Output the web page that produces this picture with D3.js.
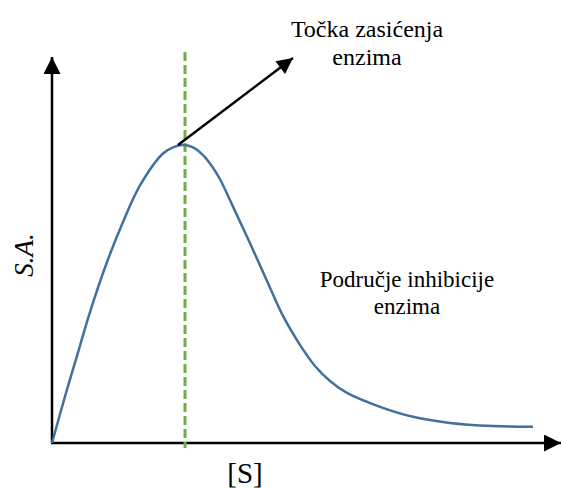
<!DOCTYPE html>
<html>
<head>
<meta charset="utf-8">
<script src="https://cdn.jsdelivr.net/npm/d3@7"></script>
<style>
  body { margin: 0; background: #fff; }
</style>
</head>
<body>
<div id="vis"></div>
<script>
// substrate concentration [S] vs specific activity (S.A.)
var sVals  = [0, 0.28, 0.54, 0.76, 1.10, 1.42, 1.76, 2.22, 2.42, 2.62, 2.82, 3.02, 3.20, 3.36, 3.62, 3.96, 4.30, 4.62, 4.96, 5.26, 5.56, 5.90, 6.56, 7.22, 7.96, 8.82, 9.62];
var saVals = [0, 1.30, 2.44, 3.40, 4.70, 5.74, 6.69, 7.52, 7.68, 7.74, 7.68, 7.48, 7.19, 6.85, 6.14, 5.19, 4.21, 3.30, 2.55, 2.00, 1.61, 1.30, 0.94, 0.68, 0.52, 0.44, 0.42];
var saturationS = 2.66;
var arrowStart = [2.52, 7.74];
var arrowEnd = [4.82, 10.0];
var labelTop = ["Točka zasićenja", "enzima"];
var labelInhib = ["Područje inhibicije", "enzima"];

var serif = "Liberation Serif, DejaVu Serif, serif";

var svg = d3.select('#vis').append('svg')
    .attr('width', 561)
    .attr('height', 488);

var x = d3.scaleLinear().domain([0, 10]).range([52, 552]);
var y = d3.scaleLinear().domain([0, 10]).range([443, 58]);

var defs = svg.append('defs');
defs.append('marker')
    .attr('id', 'axArrow')
    .attr('viewBox', '0 0 10 10')
    .attr('refX', 10).attr('refY', 5)
    .attr('markerUnits', 'userSpaceOnUse')
    .attr('markerWidth', 17).attr('markerHeight', 17)
    .attr('orient', 'auto')
  .append('path')
    .attr('d', 'M0,0 L10,5 L0,10 Z')
    .attr('fill', '#000');
defs.append('marker')
    .attr('id', 'ptArrow')
    .attr('viewBox', '0 0 10 10')
    .attr('refX', 10).attr('refY', 5)
    .attr('markerUnits', 'userSpaceOnUse')
    .attr('markerWidth', 18).attr('markerHeight', 16)
    .attr('orient', 'auto')
  .append('path')
    .attr('d', 'M0,0 L10,5 L0,10 Z')
    .attr('fill', '#000');

// axes
svg.append('line')
    .attr('x1', x(0)).attr('y1', y(0))
    .attr('x2', x(0)).attr('y2', 57)
    .attr('stroke', '#000').attr('stroke-width', 2.5)
    .attr('marker-end', 'url(#axArrow)');
svg.append('line')
    .attr('x1', x(0) - 1).attr('y1', y(0))
    .attr('x2', 561).attr('y2', y(0))
    .attr('stroke', '#000').attr('stroke-width', 2.5)
    .attr('marker-end', 'url(#axArrow)');

// saturation line
svg.append('line')
    .attr('x1', x(saturationS)).attr('y1', 52)
    .attr('x2', x(saturationS)).attr('y2', 448)
    .attr('stroke', '#70ad47').attr('stroke-width', 3)
    .attr('stroke-dasharray', '9,4');

// curve
var pts = d3.zip(sVals, saVals);
svg.append('path')
    .datum(pts)
    .attr('fill', 'none')
    .attr('stroke', '#41719c')
    .attr('stroke-width', 2.5)
    .attr('d', d3.line()
        .x(function(d) { return x(d[0]); })
        .y(function(d) { return y(d[1]); })
        .curve(d3.curveCatmullRom.alpha(0.5)));

// pointer arrow
svg.append('line')
    .attr('x1', x(arrowStart[0])).attr('y1', y(arrowStart[1]))
    .attr('x2', x(arrowEnd[0])).attr('y2', y(arrowEnd[1]))
    .attr('stroke', '#000').attr('stroke-width', 2.5)
    .attr('marker-end', 'url(#ptArrow)');

// labels
var t1 = svg.append('text').attr('text-anchor', 'middle')
    .attr('font-family', serif).attr('font-size', 24);
labelTop.forEach(function(s, i) {
  t1.append('tspan').attr('x', 367).attr('y', 37 + i * 28).text(s);
});
var t2 = svg.append('text').attr('text-anchor', 'middle')
    .attr('font-family', serif).attr('font-size', 23);
labelInhib.forEach(function(s, i) {
  t2.append('tspan').attr('x', 407).attr('y', 287 + i * 27).text(s);
});

svg.append('text')
    .attr('x', 245).attr('y', 483)
    .attr('text-anchor', 'middle')
    .attr('font-family', serif)
    .attr('font-size', 29)
    .text('[S]');

svg.append('text')
    .attr('transform', 'translate(33,255) rotate(-90)')
    .attr('text-anchor', 'middle')
    .attr('font-family', serif)
    .attr('font-size', 27)
    .attr('font-style', 'italic')
    .text('S.A.');
</script>
</body>
</html>
